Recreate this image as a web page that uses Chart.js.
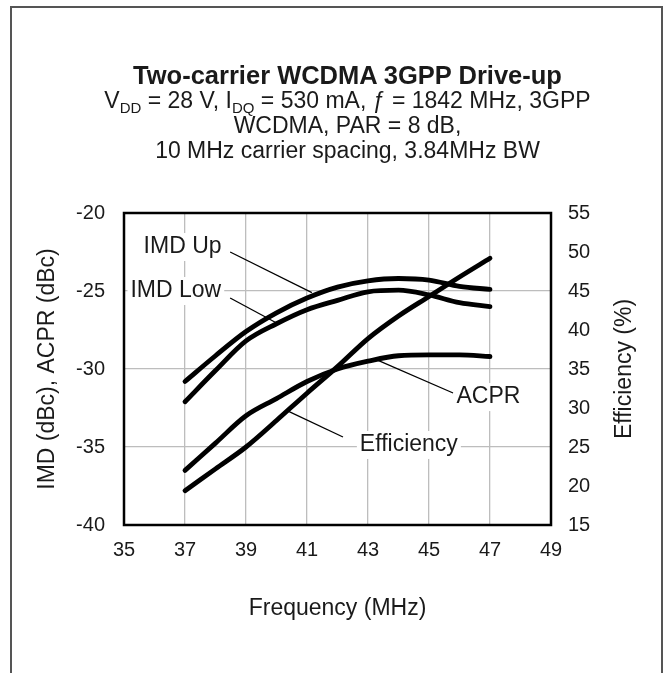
<!DOCTYPE html>
<html lang="en">
<head>
<meta charset="UTF-8">
<title>Two-carrier WCDMA 3GPP Drive-up</title>
<script src="https://cdn.jsdelivr.net/npm/chart.js"></script>
<style>
  body { margin: 0; background: #fff; font-family: "Liberation Sans", Arial, sans-serif; }
  #wrap { position: relative; width: 665px; height: 673px; overflow: hidden; }
  #frame { position: absolute; left: 10px; top: 6px; width: 649px; height: 700px; border: 2px solid #555; }
  #head { position: absolute; left: 15px; top: 62px; width: 665px; text-align: center; color: #1a1a1a; z-index: 2; }
  #head h1 { font-size: 25.5px; font-weight: bold; margin: 0; line-height: 26px; }
  #head p { font-size: 23px; margin: 0; line-height: 25px; }
  #head sub { font-size: 15px; vertical-align: -5px; line-height: 0; }
  canvas { position: absolute; left: 0; top: 0; }
</style>
</head>
<body>
<div id="wrap">
  <div id="frame"></div>
  <div id="head">
    <h1>Two-carrier WCDMA 3GPP Drive-up</h1>
    <p>V<sub>DD</sub> = 28 V, I<sub>DQ</sub> = 530 mA, ƒ = 1842 MHz, 3GPP</p>
    <p>WCDMA, PAR = 8 dB,</p>
    <p>10 MHz carrier spacing, 3.84MHz BW</p>
  </div>
  <canvas id="chart" width="665" height="673"></canvas>
</div>
<script>
// values
const freq = [37, 38, 39, 40, 41, 42, 43, 44, 45, 46, 47];
const imdUp = [-30.8, -29.15, -27.6, -26.4, -25.45, -24.75, -24.35, -24.2, -24.3, -24.7, -24.9];
const imdLow = [-32.1, -30.1, -28.2, -27.1, -26.2, -25.6, -25.05, -24.95, -25.25, -25.75, -26.0];
const acpr = [-36.5, -34.75, -33.0, -31.9, -30.8, -30.0, -29.5, -29.15, -29.1, -29.1, -29.2];
const efficiency = [19.4, 22.2, 25.0, 28.4, 31.9, 35.3, 38.9, 41.8, 44.3, 46.8, 49.2];

const xTicks = [35, 37, 39, 41, 43, 45, 47, 49];
const leftTicks = [-20, -25, -30, -35, -40];
const rightTicks = [15, 20, 25, 30, 35, 40, 45, 50, 55];

// callout labels, in data units (freq, dBc)
const callouts = [
  { text: 'IMD Up', at: [36.92, -22.18], from: [38.48, -22.5], to: [41.16, -25.1] },
  { text: 'IMD Low', at: [36.7, -25.0], from: [38.48, -25.45], to: [40.05, -27.1] },
  { text: 'ACPR', at: [46.95, -31.8], from: [45.79, -31.54], to: [43.33, -29.45] },
  { text: 'Efficiency', at: [44.34, -34.87], from: [42.18, -34.36], to: [40.38, -32.7] }
];

const FONT = '"Liberation Sans", Arial, sans-serif';
Chart.defaults.font.family = FONT;
Chart.defaults.color = '#1a1a1a';

function pts(ys) {
  return freq.map((f, i) => ({ x: f, y: ys[i] }));
}

function lineSet(label, ys, axis) {
  return {
    label: label,
    data: pts(ys),
    yAxisID: axis,
    borderColor: '#000',
    borderWidth: 4.8,
    borderCapStyle: 'round',
    borderJoinStyle: 'round',
    pointRadius: 0,
    fill: false,
    cubicInterpolationMode: 'monotone'
  };
}

const frameAndLabels = {
  id: 'frameAndLabels',
  beforeDatasetsDraw(chart) {
    const { ctx, chartArea: a } = chart;
    ctx.save();
    ctx.strokeStyle = '#000';
    ctx.lineWidth = 2.5;
    ctx.strokeRect(a.left, a.top, a.right - a.left, a.bottom - a.top);
    ctx.restore();
  },
  afterDatasetsDraw(chart) {
    const { ctx, scales } = chart;
    const px = v => scales.x.getPixelForValue(v);
    const py = v => scales.y.getPixelForValue(v);
    ctx.save();
    ctx.strokeStyle = '#000';
    ctx.lineWidth = 1.3;
    callouts.forEach(c => {
      ctx.beginPath();
      ctx.moveTo(px(c.from[0]), py(c.from[1]));
      ctx.lineTo(px(c.to[0]), py(c.to[1]));
      ctx.stroke();
    });
    ctx.font = '23px ' + FONT;
    ctx.textAlign = 'center';
    ctx.textBaseline = 'middle';
    callouts.forEach(c => {
      const w = ctx.measureText(c.text).width;
      const x = px(c.at[0]), y = py(c.at[1]);
      ctx.fillStyle = '#fff';
      ctx.fillRect(x - w / 2 - 3, y - 14, w + 6, 28);
      ctx.fillStyle = '#1a1a1a';
      ctx.fillText(c.text, x, y);
    });
    ctx.restore();
  },
  afterDraw(chart) {
    // right axis title reads bottom-to-top like the left one
    const { ctx, chartArea: a } = chart;
    const s = chart.scales.y1;
    ctx.save();
    ctx.font = '23px ' + FONT;
    ctx.fillStyle = '#1a1a1a';
    ctx.textAlign = 'center';
    ctx.textBaseline = 'middle';
    ctx.translate(s.right - 40, (a.top + a.bottom) / 2);
    ctx.rotate(-Math.PI / 2);
    ctx.fillText('Efficiency (%)', 0, 0);
    ctx.restore();
  }
};

const gridColor = '#bdbdbd';

new Chart(document.getElementById('chart'), {
  type: 'line',
  data: {
    datasets: [
      lineSet('IMD Up', imdUp, 'y'),
      lineSet('IMD Low', imdLow, 'y'),
      lineSet('ACPR', acpr, 'y'),
      lineSet('Efficiency', efficiency, 'y1')
    ]
  },
  options: {
    responsive: false,
    animation: false,
    devicePixelRatio: 1,
    layout: { padding: { top: 213, bottom: 0, left: 0, right: 0 } },
    plugins: { legend: { display: false }, tooltip: { enabled: false } },
    scales: {
      x: {
        type: 'linear',
        min: 35, max: 49,
        afterBuildTicks: s => { s.ticks = xTicks.map(v => ({ value: v })); },
        afterFit: s => { s.height = 148; },
        ticks: { font: { size: 20 }, padding: 13, maxRotation: 0 },
        grid: {
          drawTicks: false,
          lineWidth: 1.3,
          color: c => (c.tick && (c.tick.value === 35 || c.tick.value === 49)) ? 'rgba(0,0,0,0)' : gridColor
        },
        border: { display: false },
        title: { display: true, text: 'Frequency (MHz)', font: { size: 23 }, padding: { top: 0, bottom: 51 } }
      },
      y: {
        position: 'left',
        min: -40, max: -20,
        afterBuildTicks: s => { s.ticks = leftTicks.map(v => ({ value: v })); },
        afterFit: s => { s.width = 124; },
        ticks: { font: { size: 20 }, padding: 19 },
        grid: {
          drawTicks: false,
          lineWidth: 1.3,
          color: c => (c.tick && (c.tick.value === -20 || c.tick.value === -40)) ? 'rgba(0,0,0,0)' : gridColor
        },
        border: { display: false },
        title: { display: true, text: 'IMD (dBc), ACPR (dBc)', font: { size: 23 }, padding: { top: 34, bottom: 0 } }
      },
      y1: {
        position: 'right',
        min: 15, max: 55,
        afterBuildTicks: s => { s.ticks = rightTicks.map(v => ({ value: v })); },
        afterFit: s => { s.width = 114; },
        ticks: { font: { size: 20 }, padding: 17 },
        grid: { display: false, drawTicks: false },
        border: { display: false }
      }
    }
  },
  plugins: [frameAndLabels]
});
</script>
</body>
</html>
